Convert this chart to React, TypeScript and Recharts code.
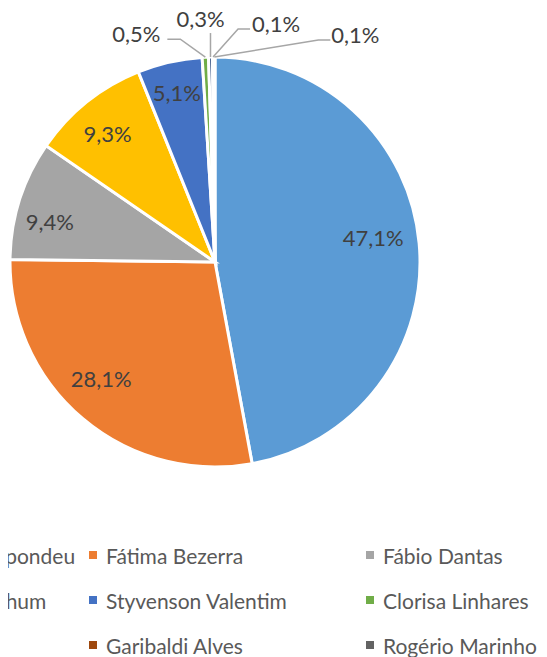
import { Cell, Pie, PieChart } from "recharts"

const categories = [
  "Não sabe/Não respondeu",
  "Fátima Bezerra",
  "Fábio Dantas",
  "Branco/Nulo/Nenhum",
  "Styvenson Valentim",
  "Clorisa Linhares",
  "Outros",
  "Garibaldi Alves",
  "Rogério Marinho",
]
const shares = [47.1, 28.1, 9.4, 9.3, 5.1, 0.5, 0.3, 0.1, 0.1]
const colors = ["#5B9BD5", "#ED7D31", "#A5A5A5", "#FFC000", "#4472C4", "#70AD47", "#264478", "#9E480E", "#636363"]

const data = categories.map((name, i) => ({ name, value: shares[i] }))

// small nudges for the inside labels (excel "best fit" is not quite radial)
const insideNudge = [
  [-5, -10],
  [-8, -9],
  [-9, 9],
  [-5, -1],
  [-2, -10],
]

// callout layout for the thin slices, relative to the slice edge point
const callouts: Record<number, { tx: number; ty: number; line: number[][] }> = {
  5: { tx: -69, ty: -24, line: [[-25, -18], [-38, -18]] },
  6: { tx: -10, ty: -39, line: [[0, -24]] },
  7: { tx: 63, ty: -34, line: [[25, -28], [37, -28]] },
  8: { tx: 141, ty: -23, line: [[104, -17], [116, -17]] },
}

const RAD = Math.PI / 180
const fmt = (v: number) => `${v.toFixed(1).replace(".", ",")}%`
const labelColor = "#404040"
const legendColor = "#595959"
const font = "Lato, 'Open Sans', sans-serif"

function renderLabel(props: any) {
  const { cx, cy, midAngle, outerRadius, index, value } = props
  const cos = Math.cos(-midAngle * RAD)
  const sin = Math.sin(-midAngle * RAD)
  const c = callouts[index]
  if (!c) {
    const r = outerRadius * 0.8
    const [nx, ny] = insideNudge[index] || [0, 0]
    return (
      <text
        x={cx + r * cos + nx}
        y={cy + r * sin + ny}
        fill={labelColor}
        fontSize={22}
        fontFamily={font}
        textAnchor="middle"
        dominantBaseline="central"
      >
        {fmt(value)}
      </text>
    )
  }
  const ax = cx + outerRadius * cos
  const ay = cy + outerRadius * sin
  const pts = [[0, 0], ...c.line].map(([dx, dy]) => `${ax + dx},${ay + dy}`).join(" ")
  return (
    <g>
      <polyline points={pts} fill="none" stroke="#A6A6A6" strokeWidth={1.5} />
      <text
        x={ax + c.tx}
        y={ay + c.ty}
        fill={labelColor}
        fontSize={22}
        fontFamily={font}
        textAnchor="middle"
        dominantBaseline="central"
      >
        {fmt(value)}
      </text>
    </g>
  )
}

const legendCols = [-178, 89, 366]
const legendRows = [555, 600, 645]

function LegendBlock() {
  return (
    <>
      {categories.map((name, i) => (
        <div
          key={name}
          style={{
            position: "absolute",
            left: legendCols[i % 3],
            top: legendRows[Math.floor(i / 3)] - 14,
            height: 28,
            display: "flex",
            alignItems: "center",
            whiteSpace: "nowrap",
            fontFamily: font,
            fontSize: 21,
            color: legendColor,
          }}
        >
          <span style={{ width: 8, height: 8, background: colors[i], marginRight: 9, display: "inline-block" }} />
          {name}
        </div>
      ))}
    </>
  )
}

export default function App() {
  return (
    <div
      style={{
        position: "relative",
        left: -8,
        top: -8,
        width: 547,
        height: 657,
        overflow: "hidden",
        background: "#fff",
      }}
    >
      <PieChart width={547} height={657} margin={{ top: 0, right: 0, bottom: 0, left: 0 }}>
        <Pie
          data={data}
          dataKey="value"
          nameKey="name"
          cx={215}
          cy={262}
          outerRadius={205}
          startAngle={90}
          endAngle={-270}
          stroke="#fff"
          strokeWidth={3}
          label={renderLabel}
          labelLine={false}
          isAnimationActive={false}
        >
          {data.map((d, i) => (
            <Cell key={d.name} fill={colors[i]} />
          ))}
        </Pie>
      </PieChart>
      <LegendBlock />
    </div>
  )
}
